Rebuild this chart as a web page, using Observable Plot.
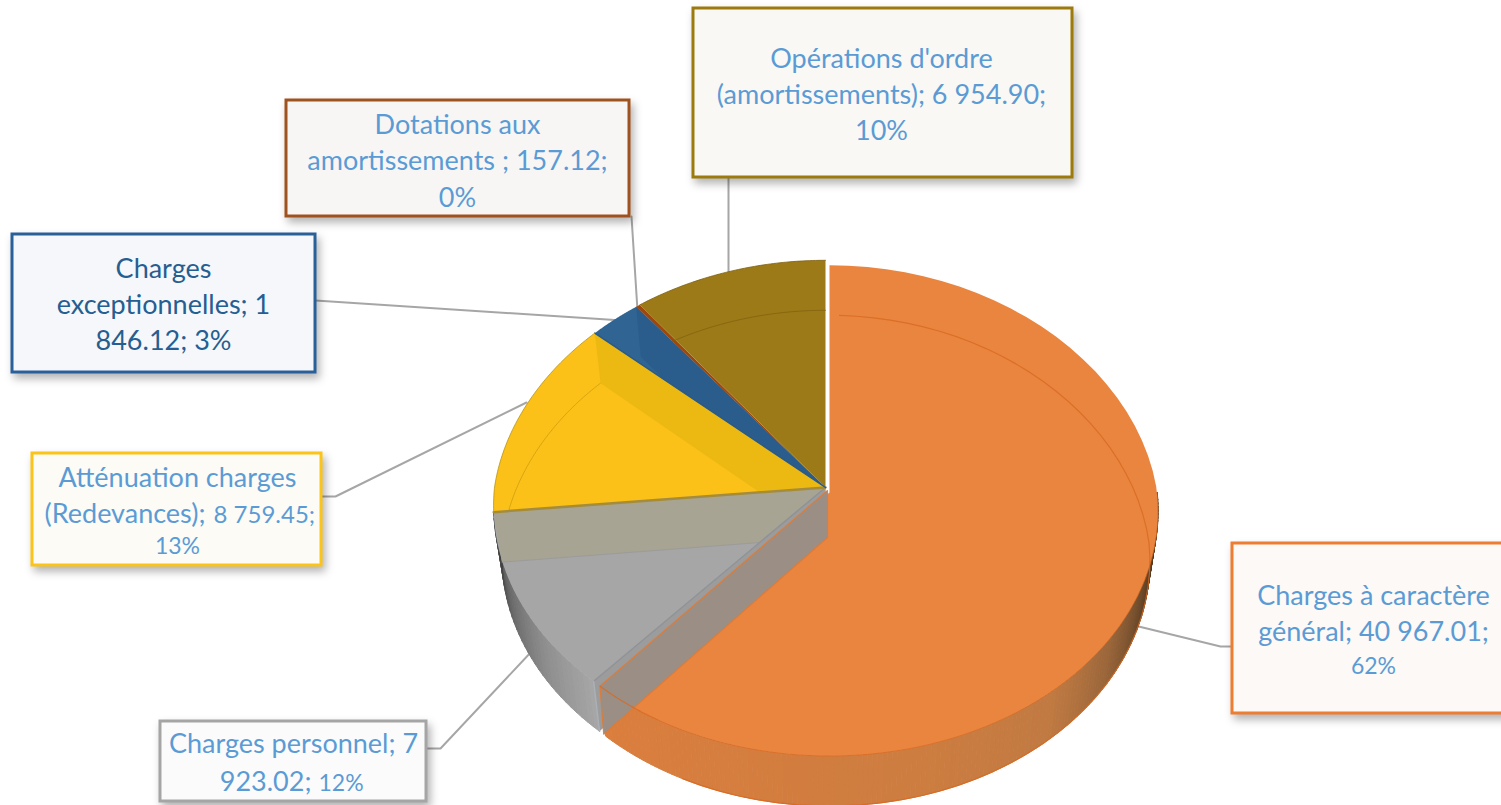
<!DOCTYPE html>
<html><head><meta charset="utf-8">
<style>html,body{margin:0;padding:0;background:#fff;overflow:hidden}svg{display:block}</style>
<script src="https://cdn.jsdelivr.net/npm/d3@7"></script>
<script src="https://cdn.jsdelivr.net/npm/@observablehq/plot@0.6"></script>
</head><body><div id="chart"></div>
<script>
// --- data
const categories = ["Charges à caractère général","Charges personnel","Atténuation charges (Redevances)","Charges exceptionnelles","Dotations aux amortissements ","Opérations d'ordre (amortissements)"];
const values = [40967.01,7923.02,8759.45,1846.12,157.12,6954.90];
const colors = ["#ea8540","#a6a6a6","#fbc118","#2f6493","#9e480e","#9c7a17"];

// --- layout of the callouts
const boxes = [
 {x1:1232,x2:1508,y1:543,y2:713,stroke:"#ed7d31",fill:"#fcf9f6"},
 {x1:160,x2:426,y1:721,y2:801,stroke:"#a5a5a5",fill:"#fbfbfb"},
 {x1:32,x2:321,y1:453,y2:565,stroke:"#fcc419",fill:"#fcfbf5"},
 {x1:12,x2:315,y1:234,y2:372,stroke:"#2a6099",fill:"#f5f7fa"},
 {x1:286,x2:629,y1:100,y2:216,stroke:"#a0521e",fill:"#f7f6f4"},
 {x1:693,x2:1072,y1:8,y2:177,stroke:"#9c7a0c",fill:"#f9f8f4"}
];
const blue="#5b9bd5", navy="#255e91", big=27, mid=24, small=23;
const labels = [
 {t:"Charges à caractère",x:1373,y:596,c:blue,s:big,a:"middle"},{t:"général; 40 967.01;",x:1373,y:632,c:blue,s:big,a:"middle"},{t:"62%",x:1373,y:666,c:blue,s:small,a:"middle"},
 {t:"Charges personnel; 7",x:293,y:744,c:blue,s:big,a:"middle"},{t:"923.02;",x:311,y:782,c:blue,s:big,a:"end"},{t:"12%",x:318,y:783,c:blue,s:small,a:"start"},
 {t:"Atténuation charges",x:177,y:478,c:blue,s:big,a:"middle"},{t:"(Redevances);",x:205,y:514,c:blue,s:big,a:"end"},{t:"8 759.45;",x:213,y:515,c:blue,s:mid,a:"start"},{t:"13%",x:177,y:546,c:blue,s:small,a:"middle"},
 {t:"Charges",x:163,y:269,c:navy,s:big,a:"middle"},{t:"exceptionnelles; 1",x:163,y:305,c:navy,s:big,a:"middle"},{t:"846.12; 3%",x:163,y:341,c:navy,s:big,a:"middle"},
 {t:"Dotations aux",x:457,y:125,c:blue,s:big,a:"middle"},{t:"amortissements ; 157.12;",x:457,y:161,c:blue,s:big,a:"middle"},{t:"0%",x:457,y:198,c:blue,s:big,a:"middle"},
 {t:"Opérations d'ordre",x:881,y:59,c:blue,s:big,a:"middle"},{t:"(amortissements); 6 954.90;",x:881,y:95,c:blue,s:big,a:"middle"},{t:"10%",x:881,y:131,c:blue,s:big,a:"middle"}
];
const leaders = [
 [[728,177],[728,275]],
 [[631,216],[637,310]],
 [[315,300],[622,320]],
 [[321,496],[335,496],[526,402]],
 [[426,748],[440,748],[532,650]],
 [[1232,646],[1220,646],[1130,624]]
];

// --- perspective of the 3D pie
const cx=825, cy=487, R=331, Ry=244, k=0.074, kFar=0.11, depth=50, botScale=0.975;
const deg=Math.PI/180;
function P(a,r,bottom,o){ o=o||{dx:0,dy:0,sc:1};
  const X=r*Math.sin(a), Y=r*Math.cos(a), s=1/(1+k*Y), sx=1/(1+(Y>0?kFar:k)*Y);
  return {x:cx+o.dx+o.sc*R*X*sx*(bottom?botScale:1), y:cy+o.dy+(bottom?depth:0)-Ry*Y*s};
}
const arcs = d3.pie().sort(null).value(d=>d).startAngle(0).endAngle(2*Math.PI)(values);
const boom={dx:4,dy:5,sc:0.99};
const off=i=>i===0?boom:undefined;
function range(a0,a1,n=60){return d3.range(n+1).map(i=>a0+(a1-a0)*i/n);}
const rim=(i,a0,a1,b)=>range(a0,a1).map(a=>P(a,1,b,off(i)));
const sector=i=>{const A=arcs[i];return [P(0,0,false,off(i)),...rim(i,A.startAngle,A.endAngle,false),P(0,0,false,off(i))];};
function cross(p,q,r,s){const d=(q.x-p.x)*(s.y-r.y)-(q.y-p.y)*(s.x-r.x);
  const t=((r.x-p.x)*(s.y-r.y)-(r.y-p.y)*(s.x-r.x))/d;return {x:p.x+t*(q.x-p.x),y:p.y+t*(q.y-p.y)};}

const poly=(pts,fill,o={})=>Plot.line(pts,{x:"x",y:"y",fill,stroke:o.stroke||"none",strokeWidth:o.sw||1,fillOpacity:o.fo==null?1:o.fo,strokeOpacity:o.so==null?1:o.so,curve:"linear-closed"});
const line=(pts,stroke,sw=1,so=1)=>Plot.line(pts,{x:"x",y:"y",stroke,strokeWidth:sw,strokeOpacity:so,curve:"linear"});

const marks=[];
// leaders run under the pie
leaders.forEach(l=>marks.push(line(l.map(([x,y])=>({x,y})),"#a6a6a6",2)));

// outer walls, gradient as narrow strips
const shadeO=d3.scaleLinear().domain([95,112,125,140,165,222].map(d=>d*deg)).range(["#3e2a18","#6d4a2a","#9a663a","#c07a42","#cd7d40","#db7e3e"]);
const shadeG=d3.scaleLinear().domain([222,235,250,264].map(d=>d*deg)).range(["#a6a6a6","#8e8e8e","#6a6a6a","#404040"]);
function walls(i,a0,a1,shade,n){const st=(a1-a0)/n;
  for(let j=0;j<n;j++){const a=a0+j*st,b=a+st,c=shade(a+st/2);
    marks.push(poly([P(a,1,false,off(i)),P(b,1,false,off(i)),P(b,1,true,off(i)),P(a,1,true,off(i))],c,{stroke:c,sw:1}));}}
walls(1,arcs[1].startAngle,arcs[1].endAngle,shadeG,30);
walls(0,90*deg,arcs[0].endAngle,shadeO,160);

// top faces
[0,1,2,3,4,5].forEach(i=>marks.push(poly(sector(i),colors[i])));

// inner (bottom-disc) arcs seen through
marks.push(line(rim(0,2*deg,arcs[0].endAngle-16*deg,true),"#d8691f",1.2,.8));
marks.push(line(rim(5,arcs[5].startAngle+6*deg,arcs[5].endAngle,true),"#7d6010",1,.7));
marks.push(line(rim(2,arcs[2].startAngle+.3*deg,arcs[2].endAngle,true),"#c79a10",1,.7));

// radial walls seen through the top faces
const apexT=P(0,0,false), apexB=P(0,0,true);
{ // grey start wall
  const a=arcs[1].endAngle;
  marks.push(poly([apexT,P(a,1,false),P(a,1,true),apexB],"#a8a493"));
  marks.push(line([P(a,1,true),apexB],"#999",1,.8));
  // yellow end wall clipped by the yellow slice
  const y=arcs[2].endAngle, rB=P(y,1,true), hit=cross(rB,apexB,apexT,P(a,1,false));
  marks.push(poly([apexT,P(y,1,false),rB,hit],"#ecb913"));
  // blue end wall clipped by the blue slice
  const b=arcs[3].endAngle, bB=P(b,1,true), hitB=cross(bB,apexB,apexT,P(y,1,false));
  marks.push(poly([apexT,P(b,1,false),bB,hitB],"#2b5d8c"));
}
{ // grey / orange end walls
  const a=arcs[0].endAngle;
  marks.push(poly([apexT,P(a,1,false),P(a,1,true),apexB],"#9c9c9c"));
  const t0={x:apexT.x+2,y:apexT.y+3}, t1=P(a,1,false,boom), b1=P(a,1,true,{dx:2,dy:3,sc:.99}), b0={x:apexB.x+2,y:apexB.y};
  marks.push(poly([t0,t1,b1,b0],"#9b8f85",{stroke:"#e07a35",sw:1.2,so:.9}));
  marks.push(line([apexT,P(a,1,false)],"#8f9296",1.5));
  marks.push(line([P(a,1,false),P(a,1,true)],"#aab0b6",1.5));
  marks.push(line(rim(0,a-12*deg,a,false),"#d8691f",1.2,.8));
  marks.push(line(rim(0,Math.PI/2,a-12*deg,false),"#d8691f",1,.7));
}
// slice boundaries
marks.push(line([apexT,P(arcs[2].startAngle,1,false)],"#a58c3c",2.5));
marks.push(line([apexT,P(arcs[3].startAngle,1,false)],"#2a5b86",1.5));
marks.push(line(rim(5,arcs[5].startAngle,arcs[5].endAngle,false),"#7d6010",1,.8));
marks.push(line(rim(2,arcs[2].startAngle,arcs[2].endAngle,false),"#b99313",1,.8));

// callouts
const shadow=(i,s,v,d,c,next)=>{const g=next(i,s,v,d,c);g.style.filter="drop-shadow(3px 5px 4px rgba(0,0,0,.3))";return g;};
marks.push(Plot.rect(boxes,{x1:"x1",x2:"x2",y1:"y1",y2:"y2",fill:"fill",stroke:"stroke",strokeWidth:3,render:shadow}));
for (const anchor of ["middle","start","end"]) marks.push(Plot.text(labels.filter(d=>d.a===anchor),{x:"x",y:"y",text:"t",fill:"c",fontSize:"s",fontFamily:"Lato",textAnchor:anchor}));

document.getElementById("chart").append(Plot.plot({
  width:1501,height:805,margin:0,
  x:{domain:[0,1501],range:[0,1501],axis:null},
  y:{domain:[0,805],range:[0,805],axis:null},
  color:{type:"identity"},
  style:{background:"#fff"},
  marks
}));
</script></body></html>
